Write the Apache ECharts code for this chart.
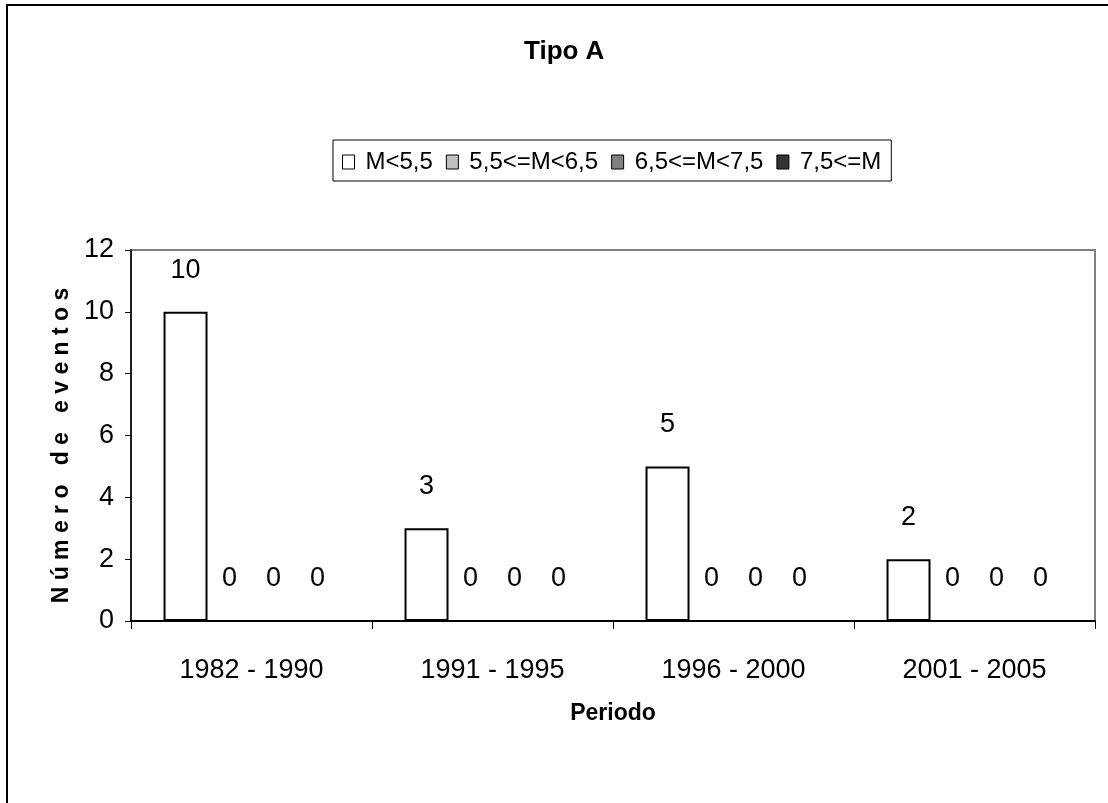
<!DOCTYPE html>
<html>
<head>
<meta charset="utf-8">
<script src="https://cdn.jsdelivr.net/npm/echarts@6/dist/echarts.min.js"></script>
<style>
html,body{margin:0;padding:0;background:#fff;}
#chart{width:1108px;height:803px;}
</style>
</head>
<body>
<div id="chart"></div>
<script>
// Periods and event counts by magnitude class
const periods = ['1982 - 1990', '1991 - 1995', '1996 - 2000', '2001 - 2005'];
const classNames = ['M<5,5', '5,5<=M<6,5', '6,5<=M<7,5', '7,5<=M'];
const classColors = ['#ffffff', '#c0c0c0', '#808080', '#333333'];
const countsM55 = [10, 3, 5, 2];
const countsM55to65 = [0, 0, 0, 0];
const countsM65to75 = [0, 0, 0, 0];
const countsM75 = [0, 0, 0, 0];
const yTicks = { min: 0, max: 12, interval: 2 };

const FONT = '"Liberation Sans Narrow", "Liberation Sans", Arial, sans-serif';
const seriesData = [countsM55, countsM55to65, countsM65to75, countsM75];

const chart = echarts.init(document.getElementById('chart'), null, { renderer: 'canvas' });

chart.setOption({
  backgroundColor: '#ffffff',
  animation: false,
  title: {
    text: 'Tipo A',
    left: 519,
    top: 34,
    textStyle: { fontFamily: FONT, fontSize: 26, fontWeight: 'bold', color: '#000' }
  },
  legend: {
    left: 333,
    top: 140,
    width: 660,
    padding: [10, 10, 7, 9],
    borderColor: '#000',
    borderWidth: 1,
    itemWidth: 12,
    itemHeight: 14,
    itemGap: 13,
    icon: 'rect',
    data: classNames.map((n, i) => ({
      name: n,
      itemStyle: { color: classColors[i], borderColor: '#000', borderWidth: 1 }
    })),
    textStyle: { fontFamily: FONT, fontSize: 24, color: '#000', padding: [0, 0, 0, 6] }
  },
  grid: {
    left: 131,
    right: 13,
    top: 250,
    bottom: 182,
    show: true,
    borderColor: '#808080',
    borderWidth: 2,
    backgroundColor: '#ffffff'
  },
  xAxis: {
    type: 'category',
    data: periods,
    name: 'Periodo',
    nameLocation: 'middle',
    nameGap: 81,
    nameTextStyle: { fontFamily: FONT, fontSize: 23, fontWeight: 'bold', color: '#000' },
    axisLine: { lineStyle: { color: '#000', width: 2 } },
    axisTick: { show: true, length: 8, lineStyle: { color: '#000' } },
    axisLabel: { fontFamily: FONT, fontSize: 27, color: '#000', margin: 36 }
  },
  yAxis: {
    type: 'value',
    min: yTicks.min,
    max: yTicks.max,
    interval: yTicks.interval,
    name: 'N ú m e r o   d e   e v e n t o s',
    nameLocation: 'middle',
    nameGap: 55,
    nameRotate: 90,
    nameTextStyle: {
      fontFamily: FONT, fontSize: 23, fontWeight: 'bold', color: '#000',
      padding: [0, 20, 0, 0]
    },
    axisLine: { show: true, lineStyle: { color: '#000', width: 1.5 } },
    axisTick: { show: true, length: 6, lineStyle: { color: '#000' } },
    splitLine: { show: false },
    axisLabel: { fontFamily: FONT, fontSize: 27, color: '#000', margin: 17 }
  },
  series: seriesData.map((vals, i) => ({
    name: classNames[i],
    type: 'bar',
    data: vals,
    barGap: '0%',
    barCategoryGap: '27%',
    itemStyle: { color: classColors[i], borderColor: '#000', borderWidth: 2 },
    label: {
      show: true,
      position: 'top',
      distance: 28,
      fontFamily: FONT,
      fontSize: 27,
      color: '#000'
    }
  })),
  graphic: [{
    type: 'rect',
    silent: true,
    shape: { x: 7, y: 5, width: 1200, height: 1000 },
    style: { fill: 'none', stroke: '#000', lineWidth: 2 }
  }]
});
</script>
</body>
</html>
